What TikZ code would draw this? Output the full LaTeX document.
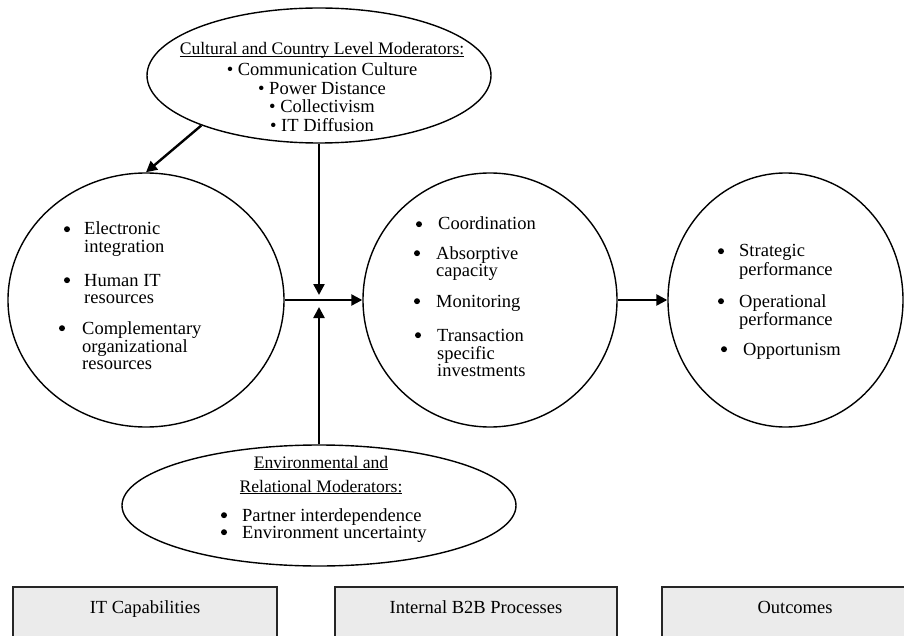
\documentclass[tikz,border=0pt]{standalone}
\usepackage{fontspec}
\setmainfont{Liberation Serif}
\usetikzlibrary{shapes.geometric,arrows.meta}

\newcommand{\leftlines}[1]{\begin{tabular}[t]{@{}l@{}}#1\end{tabular}}
\newcommand{\centerlines}[1]{\begin{tabular}[t]{@{}c@{}}#1\end{tabular}}

\begin{document}
\begin{tikzpicture}[
    x=1pt, y=-1pt,
    oval/.style={
        ellipse,
        draw=black,
        line width=1.4pt,
        inner sep=0pt
    },
    stage/.style={
        rectangle,
        draw=black!85,
        line width=1.6pt,
        fill=black!8,
        anchor=north,
        inner ysep=0pt,
        text height=27pt,
        text depth=40pt,
        font=\fontsize{18.5}{20}\selectfont
    },
    heading/.style={
        anchor=base,
        inner sep=0pt,
        font=\fontsize{18.5}{18.5}\selectfont
    },
    itemtext/.style={
        anchor=base west,
        inner sep=0pt,
        font=\fontsize{18.5}{17.6}\selectfont
    },
    dot/.style={
        circle,
        fill=black,
        inner sep=0pt,
        minimum size=6pt,
        yshift=5.8pt
    },
    flow/.style={
        -{Triangle[length=11pt,width=11pt]},
        line width=2.4pt
    }
]

\clip (0,0) rectangle (904,636);

% Moderators
\node[oval, minimum width=344pt, minimum height=135pt] (culture) at (319,75.5) {};
\node[oval, minimum width=394pt, minimum height=121pt] (environment) at (319,505.5) {};

\node[heading, font=\fontsize{17.6}{18.5}\selectfont] (culturetitle) at (322,55) {\underline{\smash{Cultural and Country Level Moderators:}}};
\node[heading] (culturelist) at (322,76) {\centerlines{\textbullet\ Communication Culture\\ \textbullet\ Power Distance\\ \textbullet\ Collectivism\\ \textbullet\ IT Diffusion}};

\node[heading, font=\fontsize{17.6}{24}\selectfont] (envtitle) at (321,468) {\centerlines{\underline{\smash{Environmental and}}\\ \underline{\smash{Relational Moderators:}}}};
\node[dot] at (224,521) {};
\node[dot] at (224,538) {};
\node[itemtext, font=\fontsize{18.5}{17}\selectfont] (envlist) at (242,521) {\leftlines{Partner interdependence\\ Environment uncertainty}};

% Main constructs
\node[oval, minimum width=276pt, minimum height=254pt] (capability) at (146,300) {};
\node[oval, minimum width=254pt, minimum height=254pt] (process) at (490,300) {};
\node[oval, minimum width=235pt, minimum height=254pt] (outcome) at (785.5,300) {};

% IT capabilities
\node[dot] at (67,235) {};
\node[itemtext] at (84,235) {\leftlines{Electronic\\ integration}};
\node[dot] at (67,286) {};
\node[itemtext] at (84,286) {\leftlines{Human IT\\ resources}};
\node[dot] at (62,334) {};
\node[itemtext] at (82,334) {\leftlines{Complementary\\ organizational\\ resources}};

% B2B processes
\node[dot] at (419,230) {};
\node[itemtext] at (438,230) {Coordination};
\node[dot] at (417,259) {};
\node[itemtext] at (436,259) {\leftlines{Absorptive\\ capacity}};
\node[dot] at (417,307) {};
\node[itemtext] at (436,307) {Monitoring};
\node[dot] at (418,341) {};
\node[itemtext] at (437,341) {\leftlines{Transaction\\ specific\\ investments}};

% Outcomes
\node[dot] at (721,257) {};
\node[itemtext] at (739,257) {\leftlines{Strategic\\ performance}};
\node[dot] at (721,307) {};
\node[itemtext] at (739,307) {\leftlines{Operational\\ performance}};
\node[dot] at (724,355) {};
\node[itemtext] at (743,355) {Opportunism};

% Arrows
\coordinate (meetabove) at (319,295);
\coordinate (meetbelow) at (319,307);
\draw[flow] (culture.203) -- (capability.north);
\draw[flow] (culture.south) -- (meetabove);
\draw[flow] (environment.north) -- (meetbelow);
\draw[flow] (capability.east) -- (process.west);
\draw[flow] (process.east) -- (outcome.west);

% Stage labels
\node[stage, minimum width=264pt] (itstage) at (145,586) {IT Capabilities};
\node[stage, minimum width=282pt] (b2bstage) at (476,586) {Internal B2B Processes};
\node[stage, minimum width=266pt] (outstage) at (795,586) {Outcomes};

\end{tikzpicture}
\end{document}
